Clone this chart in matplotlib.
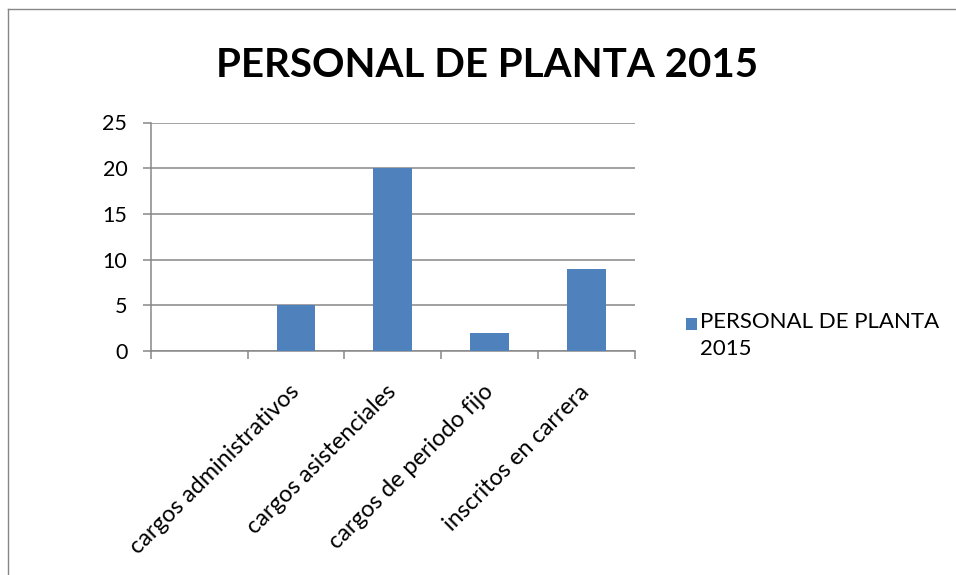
import matplotlib.pyplot as plt
import numpy as np
from matplotlib.legend_handler import HandlerPatch, update_from_first_child
from matplotlib.patches import Rectangle
from matplotlib.lines import Line2D

# data
categories = ["", "cargos administrativos", "cargos asistenciales",
              "cargos de periodo fijo", "inscritos en carrera"]
values = [0, 5, 20, 2, 9]
yticks = [0, 5, 10, 15, 20, 25]
series_name = "PERSONAL DE PLANTA 2015"

bar_color = "#4F81BD"
gray = "#878787"
plt.rcParams['font.family'] = ['Lato', 'DejaVu Sans']

fig = plt.figure(figsize=(9.56, 5.75), dpi=100)
ax = fig.add_axes([150.7 / 956, 1 - 351 / 575, 484 / 956, 228.5 / 575])

x = np.arange(len(categories))
bars = ax.bar(x, values, width=0.4, color=bar_color, linewidth=0, zorder=3,
              label="PERSONAL DE PLANTA\n2015")

ax.set_xlim(-0.5, len(categories) - 0.5)
ax.set_ylim(0, 25)
ax.set_yticks(yticks)
ax.set_yticklabels([str(v) for v in yticks])
ax.set_xticks(x)
ax.set_xticklabels(categories, rotation=45, ha='right', va='center',
                   rotation_mode='anchor')
ax.set_xticks(np.arange(len(categories) + 1) - 0.5, minor=True)

ax.grid(axis='y', color=gray, linewidth=1.1, zorder=0)
for side in ['top', 'right']:
    ax.spines[side].set_visible(False)
for side in ['left', 'bottom']:
    ax.spines[side].set_color(gray)
    ax.spines[side].set_linewidth(1.1)

ax.tick_params(axis='y', length=5.8, width=1.1, color=gray, pad=11,
               labelsize=15.5, labelcolor='black')
ax.tick_params(axis='x', which='major', length=0, pad=27, labelsize=16.8,
               labelcolor='black')
ax.tick_params(axis='x', which='minor', length=5.8, width=1.1, color=gray)

fig.text(487 / 956, 1 - 65.5 / 575, series_name, ha='center', va='center',
         fontsize=29, fontweight='bold')


# legend square sits beside the first line of the two-line label
def square(legend, orig_handle, xdescent, ydescent, width, height, fontsize):
    return Rectangle((-xdescent, -ydescent + 0.52 * fontsize), width, height)


leg = fig.legend(handles=[bars], loc='upper left',
                 bbox_to_anchor=(677 / 956, 1 - 303.5 / 575), frameon=False,
                 fontsize=16, handlelength=0.5, handleheight=0.5,
                 handletextpad=0.15, borderaxespad=0,
                 handler_map={type(bars): HandlerPatch(
                     patch_func=square, update_func=update_from_first_child)})
leg.get_texts()[0].set_linespacing(1.4)

# chart area border (left and top edges visible)
fig.add_artist(Line2D([8 / 956, 8 / 956], [0, 1 - 9 / 575], color=gray,
                      linewidth=1, transform=fig.transFigure))
fig.add_artist(Line2D([8 / 956, 1], [1 - 9 / 575, 1 - 9 / 575], color=gray,
                      linewidth=1, transform=fig.transFigure))

fig.savefig("out.png", dpi=100)
